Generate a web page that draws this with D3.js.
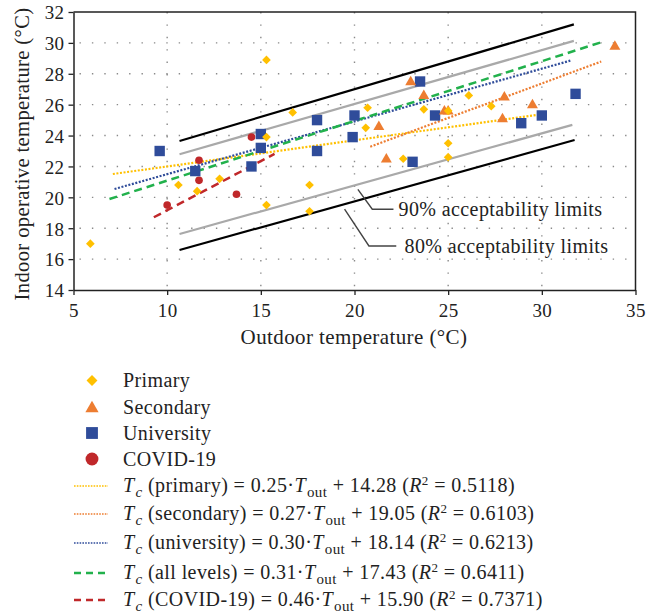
<!DOCTYPE html>
<html>
<head>
<meta charset="utf-8">
<script src="https://cdn.jsdelivr.net/npm/d3@7"></script>
<style>
  html, body { margin: 0; padding: 0; background: #fff; }
  svg text { font-family: "Liberation Serif", "DejaVu Serif", serif; fill: #222; letter-spacing: 0.4px; }
</style>
</head>
<body>
<svg id="chart" width="662" height="616"></svg>
<script>
// ---------- data ----------
const xTicks = [5, 10, 15, 20, 25, 30, 35];
const yTicks = [14, 16, 18, 20, 22, 24, 26, 28, 30, 32];

const primary = [
  [5.9, 17.0], [10.6, 20.8], [11.6, 20.4], [12.8, 21.2], [15.3, 28.9], [15.3, 23.9],
  [15.3, 19.5], [16.7, 25.5], [17.6, 20.8], [17.6, 19.1], [20.6, 24.5], [20.7, 25.8],
  [22.6, 22.5], [23.7, 25.7], [25.0, 25.6], [25.0, 23.5], [25.0, 22.6], [26.1, 26.6],
  [27.3, 25.9]
];
const secondary = [
  [21.3, 24.6], [21.7, 22.5], [23.0, 27.5], [23.7, 26.6], [24.8, 25.6], [25.0, 25.6],
  [27.9, 25.1], [28.0, 26.5], [29.5, 26.0], [33.9, 29.8]
];
const university = [
  [9.6, 23.0], [11.5, 21.7], [14.5, 22.0], [15.0, 24.1], [15.0, 23.2], [18.0, 25.0],
  [18.0, 23.0], [20.0, 25.3], [19.9, 23.9], [23.1, 22.3], [23.5, 27.5], [24.3, 25.3],
  [28.9, 24.8], [30.0, 25.3], [31.8, 26.7]
];
const covid = [
  [10.0, 19.5], [11.7, 22.4], [11.7, 21.1], [13.7, 20.2], [14.5, 23.9]
];

const primaryFit    = [[7.1, 21.51], [29.7, 25.33]];
const secondaryFit  = [[20.84, 23.28], [33.17, 28.79]];
const universityFit = [[7.19, 20.54], [31.52, 28.85]];
const allFit        = [[6.92, 19.89], [33.17, 30.04]];
const covidFit      = [[9.29, 18.71], [15.73, 22.81]];

const limit80Upper = [[10.66, 23.65], [31.71, 31.2]];
const limit80Lower = [[10.66, 16.59], [31.75, 23.71]];
const limit90Upper = [[10.66, 22.79], [31.71, 30.13]];
const limit90Lower = [[10.66, 17.63], [31.63, 24.69]];

const legendPoints = ["Primary", "Secondary", "University", "COVID-19"];
const legendFits = [
  { name: "primary",     a: "0.25", b: "14.28", r2: "0.5118" },
  { name: "secondary",   a: "0.27", b: "19.05", r2: "0.6103" },
  { name: "university",  a: "0.30", b: "18.14", r2: "0.6213" },
  { name: "all levels",  a: "0.31", b: "17.43", r2: "0.6411" },
  { name: "COVID-19",    a: "0.46", b: "15.90", r2: "0.7371" }
];

// ---------- styles ----------
const C = { yellow: "#FFC000", orange: "#ED7D31", blue: "#2F4C9A", red: "#C0282A", green: "#22B14C", gray: "#A9A9A9" };

const svg = d3.select("#chart");
const x = d3.scaleLinear().domain([5, 35]).range([73.5, 635.5]);
const y = d3.scaleLinear().domain([14, 32]).range([290, 12]);
const line = d3.line().x(d => x(d[0])).y(d => y(d[1]));

// gridlines
const grid = svg.append("g");
grid.selectAll(".vg").data(xTicks.slice(1, -1)).join("line")
  .attr("x1", d => x(d)).attr("x2", d => x(d)).attr("y1", y(32)).attr("y2", y(14))
  .attr("stroke", "#8a8a8a").attr("stroke-width", 1.4).attr("stroke-dasharray", "1.4,11");
grid.selectAll(".hg").data(yTicks.slice(1, -1)).join("line")
  .attr("x1", x(5)).attr("x2", x(35)).attr("y1", d => y(d)).attr("y2", d => y(d))
  .attr("stroke", "#8a8a8a").attr("stroke-width", 1.4).attr("stroke-dasharray", "1.4,11")
  .attr("stroke-dashoffset", -6);

// frame
svg.append("path").attr("d", `M${x(5)},${y(32)}H${x(35)}V${y(14)}`)
  .attr("fill", "none").attr("stroke", "#222").attr("stroke-width", 1.5);

// axes
const xAxis = svg.append("g").attr("transform", `translate(0,${y(14)})`)
  .call(d3.axisBottom(x).tickValues(xTicks).tickSize(5).tickSizeOuter(0));
const yAxis = svg.append("g").attr("transform", `translate(${x(5)},0)`)
  .call(d3.axisLeft(y).tickValues(yTicks).tickSize(5).tickSizeOuter(0));
[xAxis, yAxis].forEach(g => {
  g.select(".domain").attr("stroke", "#222").attr("stroke-width", 1.5);
  g.selectAll(".tick line").attr("stroke", "#222").attr("stroke-width", 1.3);
  g.selectAll(".tick text").style("font-family", "'Liberation Serif', serif")
    .style("font-size", "19px").style("letter-spacing", "0.4px").attr("fill", "#222");
});
xAxis.selectAll(".tick text").attr("dy", "1.0em");
yAxis.selectAll(".tick text").attr("x", -9).attr("dy", "0.36em");

svg.append("text").attr("x", 354).attr("y", 344).attr("text-anchor", "middle")
  .style("font-size", "21px").text("Outdoor temperature (°C)");
svg.append("text").attr("transform", `translate(29,${(y(14) + y(32)) / 2 + 3}) rotate(-90)`)
  .attr("text-anchor", "middle").style("font-size", "20.5px")
  .text("Indoor operative temperature (°C)");

// acceptability limits
[[limit80Upper, "#000"], [limit80Lower, "#000"], [limit90Upper, C.gray], [limit90Lower, C.gray]]
  .forEach(([d, c]) => svg.append("path").attr("d", line(d)).attr("fill", "none")
    .attr("stroke", c).attr("stroke-width", 2.2));

// trend lines
const fitStyles = [
  [primaryFit, C.yellow, "2,1.6", 2.2],
  [secondaryFit, C.orange, "2,1.6", 2.2],
  [universityFit, C.blue, "2,1.6", 2.2],
  [allFit, C.green, "8,5", 2.5],
  [covidFit, C.red, "8,5", 2.5]
];
fitStyles.forEach(([d, c, dash, w]) => svg.append("path").attr("d", line(d)).attr("fill", "none")
  .attr("stroke", c).attr("stroke-width", w).attr("stroke-dasharray", dash));

// annotations
const ann = svg.append("g");
const annLine = d3.line();
ann.append("path").attr("d", annLine([[x(20.18), y(20.52)], [x(20.95), y(19.23)], [x(22.08), y(19.23)]]))
  .attr("fill", "none").attr("stroke", "#444").attr("stroke-width", 1.4);
ann.append("text").attr("x", x(22.35)).attr("y", y(19.23)).attr("dy", "0.33em")
  .style("font-size", "20px").text("90% acceptability limits");
ann.append("path").attr("d", annLine([[x(19.47), y(19.23)], [x(20.77), y(16.85)], [x(22.23), y(16.85)]]))
  .attr("fill", "none").attr("stroke", "#444").attr("stroke-width", 1.4);
ann.append("text").attr("x", x(22.67)).attr("y", y(16.85)).attr("dy", "0.33em")
  .style("font-size", "20px").text("80% acceptability limits");

// markers
const sym = {
  diamond: d3.symbol().type(d3.symbolDiamond2).size(48),
  triangle: d3.symbol().type(d3.symbolTriangle).size(52),
  square: d3.symbol().type(d3.symbolSquare).size(108),
  circle: d3.symbol().type(d3.symbolCircle).size(46)
};
const drawPts = (data, s, c, dy = 0) => svg.append("g").selectAll("path").data(data).join("path")
  .attr("transform", d => `translate(${x(d[0])},${y(d[1]) + dy})`).attr("d", s).attr("fill", c);
drawPts(covid, sym.circle, C.red);
drawPts(university, sym.square, C.blue);
drawPts(secondary, sym.triangle, C.orange, 0.5);
drawPts(primary, sym.diamond, C.yellow);

// legend
const lg = svg.append("g");
const markerX = 92, textX = 123;
const ptRows = [380.5, 407.5, 433, 459];
const ptSyms = [[sym.diamond, C.yellow], [sym.triangle, C.orange], [sym.square, C.blue], [sym.circle, C.red]];
legendPoints.forEach((name, i) => {
  lg.append("path").attr("transform", `translate(${markerX},${ptRows[i] + (i === 1 ? 1 : 0)})`)
    .attr("d", i === 0 ? d3.symbol().type(d3.symbolDiamond2).size(76)()
      : i === 1 ? d3.symbol().type(d3.symbolTriangle).size(76)()
      : i === 2 ? d3.symbol().type(d3.symbolSquare).size(140)()
      : d3.symbol().type(d3.symbolCircle).size(130)())
    .attr("fill", ptSyms[i][1]);
  lg.append("text").attr("x", textX).attr("y", ptRows[i]).attr("dy", "0.33em")
    .style("font-size", "20px").text(name);
});
const fitRows = [486, 514, 543, 573, 600];
legendFits.forEach((f, i) => {
  const st = fitStyles[i];
  lg.append("line").attr("x1", 74).attr("x2", 108).attr("y1", fitRows[i]).attr("y2", fitRows[i])
    .attr("stroke", st[1]).attr("stroke-width", i < 3 ? 1.6 : 2.4)
    .attr("stroke-dasharray", i < 3 ? "1.6,1.2" : "7,5");
  const t = lg.append("text").attr("x", textX).attr("y", fitRows[i]).attr("dy", "0.3em")
    .style("font-size", "20px");
  t.append("tspan").style("font-style", "italic").text("T");
  t.append("tspan").style("font-style", "italic").style("font-size", "15px").attr("dy", 5).attr("dx", 1).text("c");
  t.append("tspan").attr("dy", -5).text(` (${f.name}) = ${f.a}·`);
  t.append("tspan").style("font-style", "italic").text("T");
  t.append("tspan").style("font-size", "15px").attr("dy", 5).attr("dx", 1).text("out");
  t.append("tspan").attr("dy", -5).text(` + ${f.b} (`);
  t.append("tspan").style("font-style", "italic").text("R");
  t.append("tspan").style("font-size", "13px").attr("dy", -7).text("2");
  t.append("tspan").attr("dy", 7).text(` = ${f.r2})`);
});
</script>
</body>
</html>
